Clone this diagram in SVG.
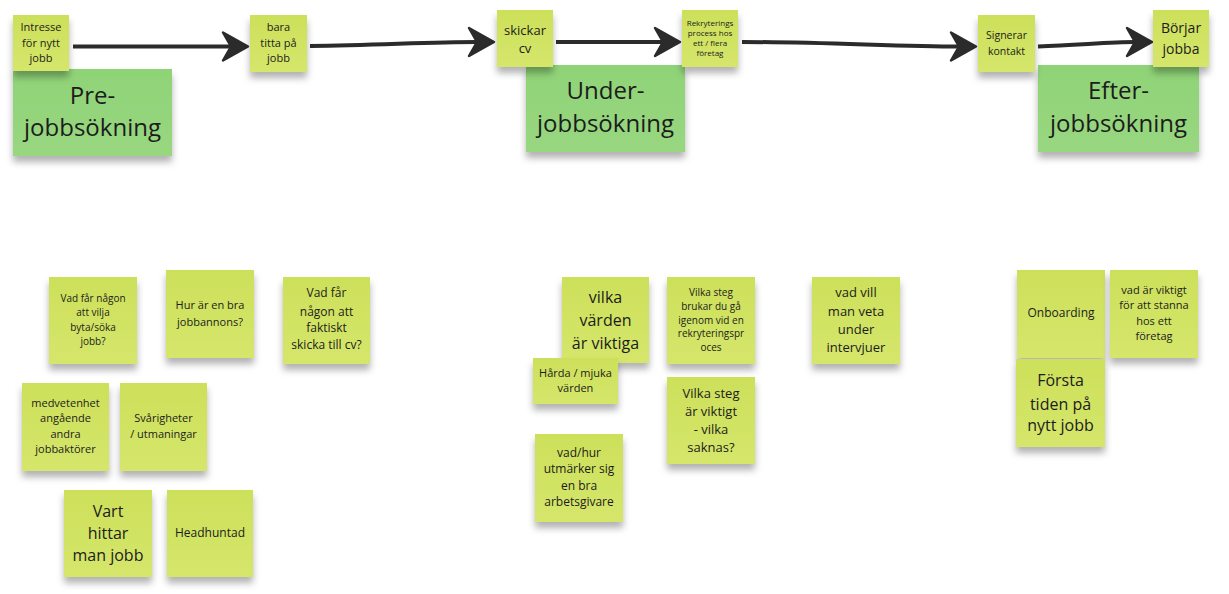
<svg xmlns="http://www.w3.org/2000/svg" width="1229" height="594" viewBox="0 0 1229 594">
  <defs>
    <linearGradient id="stickyGrad" x1="0" y1="0" x2="0" y2="1">
      <stop offset="0" stop-color="#cde05a"/>
      <stop offset="1" stop-color="#d5e66b"/>
    </linearGradient>
    <linearGradient id="greenGrad" x1="0" y1="0" x2="0" y2="1">
      <stop offset="0" stop-color="#8fd377"/>
      <stop offset="1" stop-color="#98d780"/>
    </linearGradient>
    <filter id="shadow" x="-20%" y="-20%" width="140%" height="150%">
      <feDropShadow dx="0" dy="6" stdDeviation="3.5" flood-color="#000" flood-opacity="0.3"/>
    </filter>
    <marker id="arrow" markerUnits="userSpaceOnUse" markerWidth="34" markerHeight="34" viewBox="-3 -17 34 34" refX="8" refY="0" orient="auto">
      <path d="M0,-14 L25,0 L0,14 L8,0 Z" fill="#2b2b2b" stroke="#2b2b2b" stroke-width="2.5" stroke-linejoin="round"/>
    </marker>
  </defs>
  <style>
    .sticky { fill: url(#stickyGrad); filter: url(#shadow); }
    .header { fill: url(#greenGrad); filter: url(#shadow); }
    text { font-family: "Open Sans", "Noto Sans", "Liberation Sans", sans-serif; fill: #1c1c1c; text-anchor: middle; }
    .conn { fill: none; stroke: #2b2b2b; stroke-width: 4; marker-end: url(#arrow); }
  </style>
  <rect width="1229" height="594" fill="#ffffff"/>

  <g id="connectors">
    <path class="conn" d="M73,46.5 L231,46.5"/>
    <path class="conn" d="M310,46 C380,45 430,42 477,42"/>
    <path class="conn" d="M556,42 L663,42"/>
    <path class="conn" d="M742,42 C820,42 900,46.5 959,46.5"/>
    <path class="conn" d="M1038,46.5 C1080,45 1110,42 1135,42"/>
  </g>

  <g id="header-pre">
    <rect class="header" x="13" y="69" width="159" height="87"/>
    <text font-size="24"><tspan x="92.5" y="104">Pre-</tspan><tspan x="92.5" y="136">jobbsökning</tspan></text>
  </g>
  <g id="header-under">
    <rect class="header" x="526" y="65" width="159" height="87"/>
    <text font-size="24"><tspan x="605.5" y="99">Under-</tspan><tspan x="605.5" y="132">jobbsökning</tspan></text>
  </g>
  <g id="header-efter">
    <rect class="header" x="1038" y="65" width="161" height="87"/>
    <text font-size="24"><tspan x="1118.5" y="99">Efter-</tspan><tspan x="1118.5" y="132">jobbsökning</tspan></text>
  </g>

  <g id="step-intresse">
    <rect class="sticky" x="13" y="15" width="56" height="56"/>
    <text font-size="11"><tspan x="41" y="31">Intresse</tspan><tspan x="41" y="47">för nytt</tspan><tspan x="41" y="62">jobb</tspan></text>
  </g>
  <g id="step-titta">
    <rect class="sticky" x="250" y="15" width="57" height="57"/>
    <text font-size="11"><tspan x="278.5" y="31">bara</tspan><tspan x="278.5" y="47">titta på</tspan><tspan x="278.5" y="62">jobb</tspan></text>
  </g>
  <g id="step-skickar">
    <rect class="sticky" x="497" y="10" width="56" height="57"/>
    <text font-size="13"><tspan x="525" y="35">skickar</tspan><tspan x="525" y="53">cv</tspan></text>
  </g>
  <g id="step-rekrytering">
    <rect class="sticky" x="682" y="10" width="56" height="57"/>
    <text font-size="8"><tspan x="710" y="26">Rekryterings</tspan><tspan x="710" y="36">process hos</tspan><tspan x="710" y="46">ett / flera</tspan><tspan x="710" y="56">företag</tspan></text>
  </g>
  <g id="step-signerar">
    <rect class="sticky" x="978" y="15" width="57" height="57"/>
    <text font-size="10.5"><tspan x="1006.5" y="39">Signerar</tspan><tspan x="1006.5" y="55">kontakt</tspan></text>
  </g>
  <g id="step-borjar">
    <rect class="sticky" x="1153" y="10" width="56" height="57"/>
    <text font-size="14"><tspan x="1181" y="33">Börjar</tspan><tspan x="1181" y="54">jobba</tspan></text>
  </g>

  <g id="note-vilja-byta">
    <rect class="sticky" x="49" y="277" width="88" height="87"/>
    <text font-size="10"><tspan x="93" y="301.5">Vad får någon</tspan><tspan x="93" y="315.5">att vilja</tspan><tspan x="93" y="330.5">byta/söka</tspan><tspan x="93" y="344.5">jobb?</tspan></text>
  </g>
  <g id="note-jobbannons">
    <rect class="sticky" x="166" y="270" width="88" height="88"/>
    <text font-size="11"><tspan x="210" y="309">Hur är en bra</tspan><tspan x="210" y="326">jobbannons?</tspan></text>
  </g>
  <g id="note-skicka-cv">
    <rect class="sticky" x="283" y="277" width="87" height="87"/>
    <text font-size="12"><tspan x="326.5" y="297">Vad får</tspan><tspan x="326.5" y="316">någon att</tspan><tspan x="326.5" y="332">faktiskt</tspan><tspan x="326.5" y="349">skicka till cv?</tspan></text>
  </g>
  <g id="note-medvetenhet">
    <rect class="sticky" x="22" y="383" width="87" height="88"/>
    <text font-size="11"><tspan x="65.5" y="407">medvetenhet</tspan><tspan x="65.5" y="422">angående</tspan><tspan x="65.5" y="438">andra</tspan><tspan x="65.5" y="453">jobbaktörer</tspan></text>
  </g>
  <g id="note-svarigheter">
    <rect class="sticky" x="120" y="383" width="87" height="88"/>
    <text font-size="11"><tspan x="163.5" y="422">Svårigheter</tspan><tspan x="163.5" y="438">/ utmaningar</tspan></text>
  </g>
  <g id="note-vart-hittar">
    <rect class="sticky" x="64" y="490" width="88" height="87"/>
    <text font-size="16"><tspan x="108" y="517">Vart</tspan><tspan x="108" y="539">hittar</tspan><tspan x="108" y="561">man jobb</tspan></text>
  </g>
  <g id="note-headhuntad">
    <rect class="sticky" x="167" y="490" width="86" height="87"/>
    <text font-size="12"><tspan x="210" y="537">Headhuntad</tspan></text>
  </g>

  <g id="note-varden">
    <rect class="sticky" x="562" y="277" width="87" height="86"/>
    <text font-size="16"><tspan x="605.5" y="303">vilka</tspan><tspan x="605.5" y="326">värden</tspan><tspan x="605.5" y="349">är viktiga</tspan></text>
  </g>
  <g id="note-harda-mjuka">
    <rect class="sticky" x="533" y="358" width="85" height="46"/>
    <text font-size="11"><tspan x="575.5" y="377">Hårda / mjuka</tspan><tspan x="575.5" y="392">värden</tspan></text>
  </g>
  <g id="note-steg-brukar">
    <rect class="sticky" x="667" y="277" width="88" height="87"/>
    <text font-size="10"><tspan x="711" y="295.5">Vilka steg</tspan><tspan x="711" y="309.5">brukar du gå</tspan><tspan x="711" y="323.5">igenom vid en</tspan><tspan x="711" y="336.5">rekryteringspr</tspan><tspan x="711" y="350.5">oces</tspan></text>
  </g>
  <g id="note-steg-viktigt">
    <rect class="sticky" x="667" y="377" width="88" height="87"/>
    <text font-size="13"><tspan x="711" y="397.5">Vilka steg</tspan><tspan x="711" y="415.5">är viktigt</tspan><tspan x="711" y="433.5">- vilka</tspan><tspan x="711" y="451.5">saknas?</tspan></text>
  </g>
  <g id="note-arbetsgivare">
    <rect class="sticky" x="535" y="434" width="88" height="88"/>
    <text font-size="12"><tspan x="579" y="457">vad/hur</tspan><tspan x="579" y="473">utmärker sig</tspan><tspan x="579" y="490">en bra</tspan><tspan x="579" y="506">arbetsgivare</tspan></text>
  </g>
  <g id="note-intervjuer">
    <rect class="sticky" x="812" y="277" width="88" height="87"/>
    <text font-size="13"><tspan x="856" y="296.5">vad vill</tspan><tspan x="856" y="315.5">man veta</tspan><tspan x="856" y="333.5">under</tspan><tspan x="856" y="351.5">intervjuer</tspan></text>
  </g>

  <g id="note-onboarding">
    <rect class="sticky" x="1017" y="270" width="88" height="88"/>
    <text font-size="12"><tspan x="1061" y="317">Onboarding</tspan></text>
  </g>
  <g id="note-stanna">
    <rect class="sticky" x="1110" y="270" width="88" height="88"/>
    <text font-size="11"><tspan x="1154" y="294">vad är viktigt</tspan><tspan x="1154" y="309">för att stanna</tspan><tspan x="1154" y="325">hos ett</tspan><tspan x="1154" y="340">företag</tspan></text>
  </g>
  <g id="note-forsta-tiden">
    <rect class="sticky" x="1016" y="359" width="89" height="88"/>
    <text font-size="16"><tspan x="1060.5" y="386">Första</tspan><tspan x="1060.5" y="410">tiden på</tspan><tspan x="1060.5" y="431">nytt jobb</tspan></text>
  </g>
</svg>
